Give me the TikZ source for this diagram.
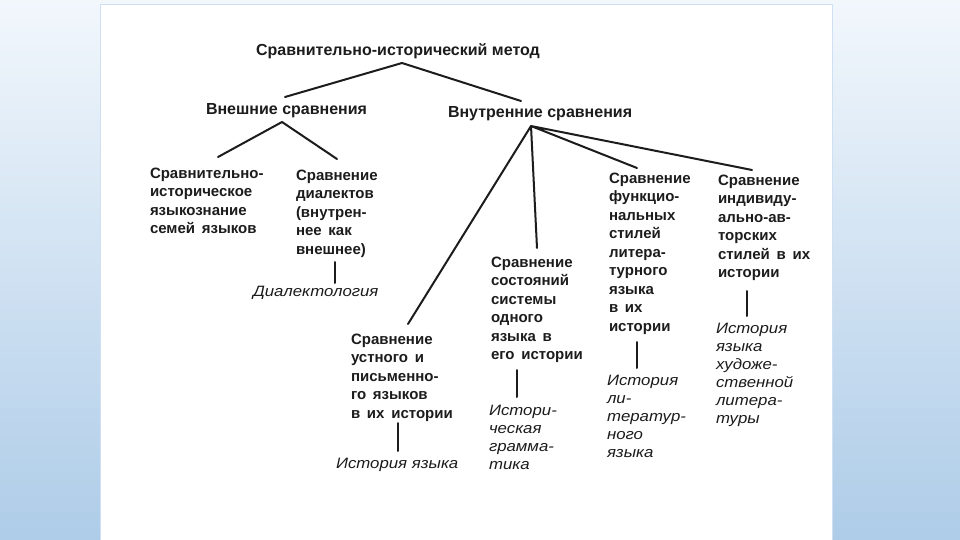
\documentclass[tikz,border=0pt]{standalone}
\usepackage{fontspec}
\setmainfont{Liberation Sans}
\newfontfamily\widefont{Liberation Sans}[FakeStretch=1.12]
\usetikzlibrary{calc}
\definecolor{ink}{HTML}{1C1C1C}
\definecolor{bgtop}{HTML}{F2F7FC}
\definecolor{bgbot}{HTML}{AECCE8}
\newcommand\bodyfont{\fontsize{15}{18.5}\selectfont\bfseries\setlength{\spaceskip}{0.45em}}
\newcommand\lblfont{\widefont\fontsize{15}{18}\selectfont\itshape}
\tikzset{
  every node/.style={inner sep=0pt, outer sep=0pt, text=ink},
  box/.style={anchor=base west, align=left, font=\bodyfont},
  head/.style={anchor=base west, font=\fontsize{16}{19}\selectfont\bfseries},
  lbl/.style={anchor=base west, align=left, font=\lblfont},
  link/.style={draw=ink, line width=2pt, line cap=round},
}
\begin{document}
\begin{tikzpicture}[x=1pt, y=-1pt]
\useasboundingbox (0,0) rectangle (960,540);
\shade[top color=bgtop, bottom color=bgbot] (0,0) rectangle (960,540);
\fill[white] (100,4) rectangle (833,540);
\draw[color=bgbot!60, line width=0.8pt] (100.5,540) -- (100.5,4) -- (832.5,4) -- (832.5,540);

% nodes (base = baseline of the last line)
\node[anchor=base, font=\fontsize{16}{19}\selectfont\bfseries] (title) at (398,56) {Сравнительно-исторический метод};
\node[head] (ext) at (206,115) {Внешние сравнения};
\node[head] (int) at (448,118) {Внутренние сравнения};
\node[box] (comp) at (150,233.5) {Сравнительно-\\историческое\\языкознание\\семей языков};
\node[box] (dial) at (296,254) {Сравнение\\диалектов\\(внутрен-\\нее как\\внешнее)};
\node[lbl] (diallbl) at (253,296) {Диалектология};
\node[box] (oral) at (351,418) {Сравнение\\устного и\\письменно-\\го языков\\в их истории};
\node[lbl] (orallbl) at (336,468) {История языка};
\node[box] (states) at (491,359.5) {Сравнение\\состояний\\системы\\одного\\языка в\\его истории};
\node[lbl] (stateslbl) at (489,469) {Истори-\\ческая\\грамма-\\тика};
\node[box] (func) at (609,331) {Сравнение\\функцио-\\нальных\\стилей\\литера-\\турного\\языка\\в их\\истории};
\node[lbl] (funclbl) at (607,457) {История\\ли-\\тератур-\\ного\\языка};
\node[box] (indiv) at (718,277.5) {Сравнение\\индивиду-\\ально-ав-\\торских\\стилей в их\\истории};
\node[lbl] (indivlbl) at (716,423) {История\\языка\\художе-\\ственной\\литера-\\туры};

% connector points
\coordinate (titleapex) at (402,63);
\coordinate (extapex) at (282,122);
\coordinate (intapex) at (531,126);
\coordinate (extin) at (285,97);
\coordinate (intin) at (521,101);
\coordinate (compin) at (218,157);
\coordinate (dialin) at (337,159);
\coordinate (oralin) at (408,324);
\coordinate (statesin) at (537,248);
\coordinate (funcin) at (637,168);
\coordinate (indivin) at (752,170);
\coordinate (dialout) at (335,262);  \coordinate (diallblin) at (335,283);
\coordinate (oralout) at (398,423);  \coordinate (orallblin) at (398,451);
\coordinate (statesout) at (517,370); \coordinate (stateslblin) at (517,397);
\coordinate (funcout) at (637,342);  \coordinate (funclblin) at (637,368);
\coordinate (indivout) at (747,291); \coordinate (indivlblin) at (747,316);

\path[link] (titleapex) -- (extin) (titleapex) -- (intin);
\path[link] (extapex) -- (compin) (extapex) -- (dialin);
\path[link] (intapex) -- (oralin) (intapex) -- (statesin) (intapex) -- (funcin) (intapex) -- (indivin);
\path[link] (dialout) -- (diallblin) (oralout) -- (orallblin) (statesout) -- (stateslblin) (funcout) -- (funclblin) (indivout) -- (indivlblin);
\end{tikzpicture}
\end{document}
